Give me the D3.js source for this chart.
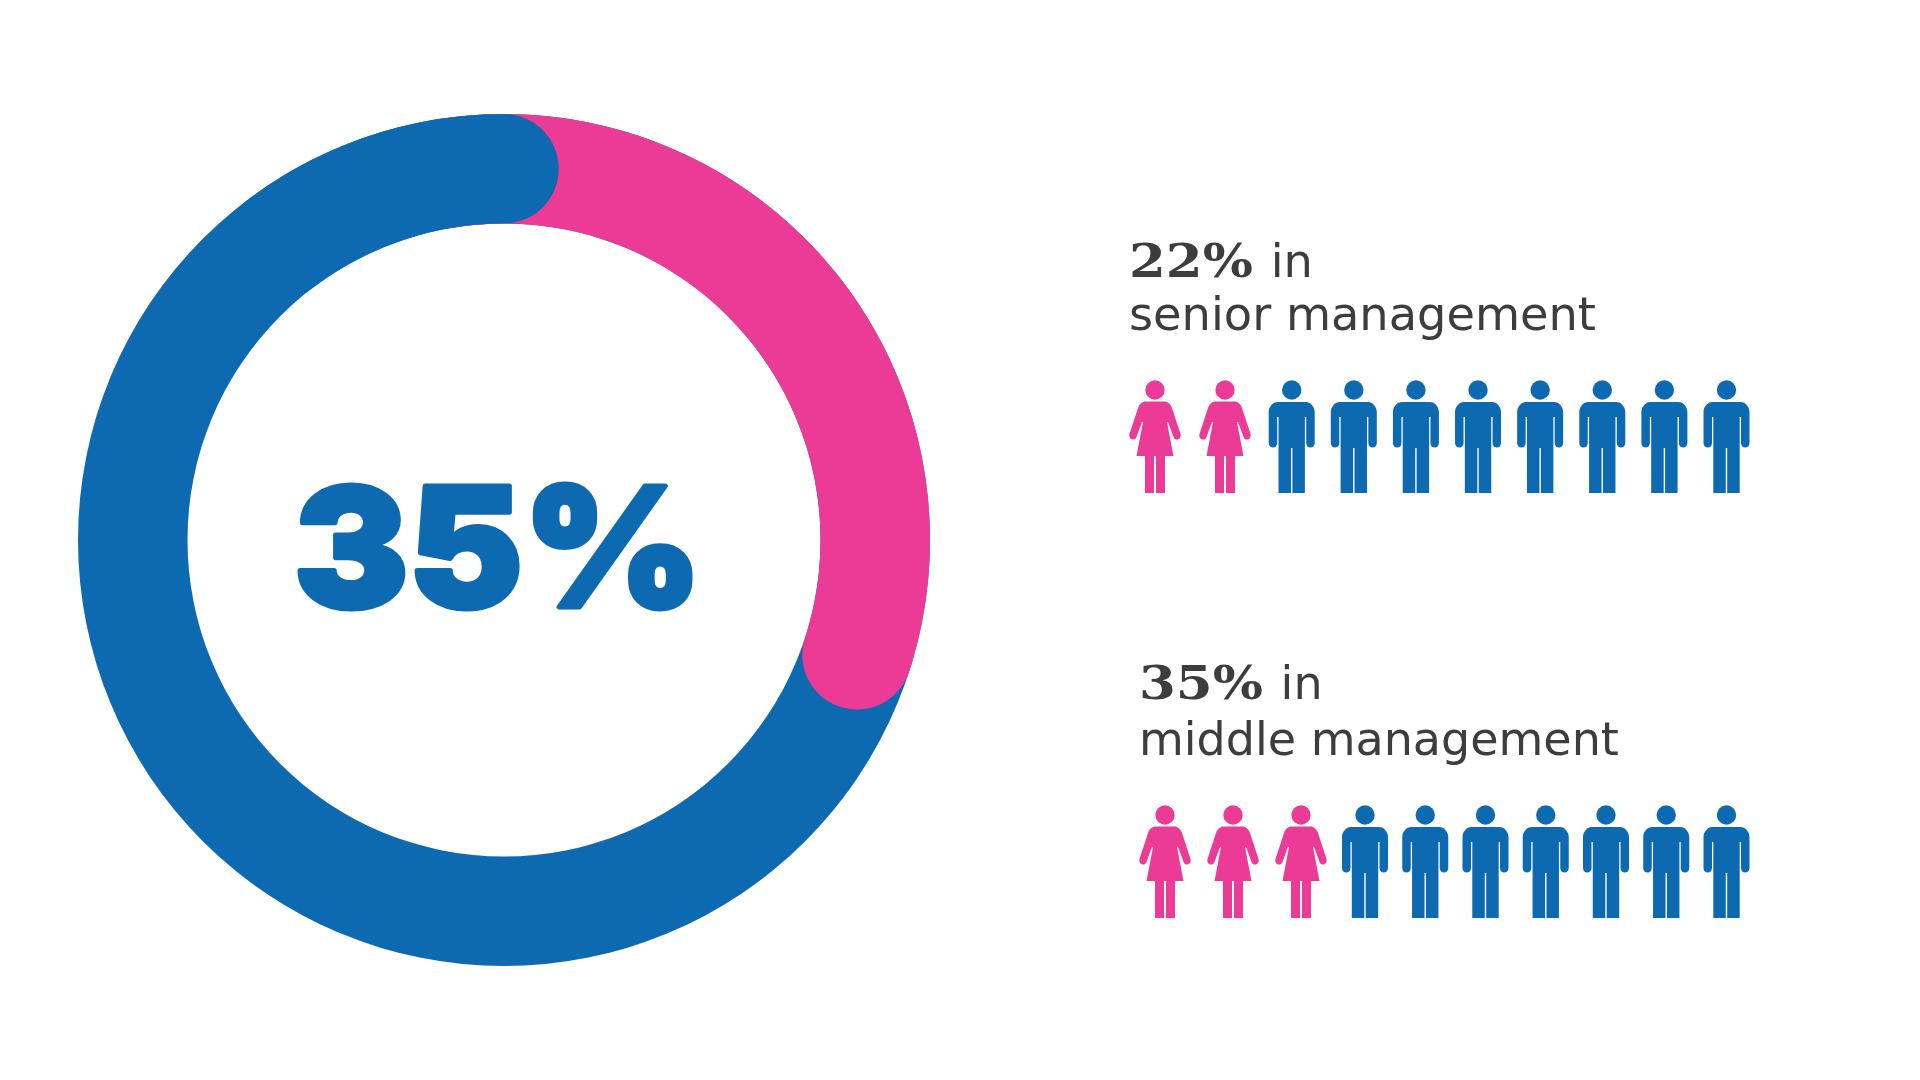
<!DOCTYPE html>
<html><head><meta charset="utf-8">
<script src="https://cdn.jsdelivr.net/npm/d3@7"></script>
<style>html,body{margin:0;padding:0;background:#fff}svg{display:block}</style></head>
<body><svg id="c" width="1920" height="1080"></svg>
<script>
const headline = "35%";
// share of the ring in pink, read at the centre of its rounded end
const ringShare = [0.3];
const rowPct = ["22%", "35%"];
const rowLabel = ["senior management", "middle management"];
const rowWomen = [2, 3];
const rowTotal = [10, 10];
const BLUE = "#106AB0", PINK = "#EC3B97", INK = "#3C3C3C";

const svg = d3.select("#c");
const defs = svg.append("defs");
defs.append("filter").attr("id", "soft").attr("x", 0).attr("y", 0).attr("width", 1920).attr("height", 1080)
  .attr("filterUnits", "userSpaceOnUse")
  .append("feGaussianBlur").attr("stdDeviation", 0.7);
const root = svg.append("g").attr("filter", "url(#soft)");

const angle = d3.scaleLinear().domain([0, 1]).range([0, 2 * Math.PI]);
const cx = 504, cy = 540, R = 426, r = 316.5, cap = (R - r) / 2;
const capAngle = Math.asin(cap / ((R + r) / 2));
const g = root.append("g").attr("transform", `translate(${cx},${cy})`);
const arc = d3.arc().innerRadius(r).outerRadius(R);
const roundArc = d3.arc().innerRadius(r).outerRadius(R).cornerRadius(cap);
g.append("path").attr("fill", BLUE).attr("d", arc({startAngle: 0, endAngle: 2 * Math.PI}));
g.append("path").attr("fill", PINK).attr("d", roundArc({startAngle: -0.3, endAngle: angle(ringShare[0]) + capAngle}));
g.append("path").attr("fill", BLUE).attr("d", roundArc({startAngle: -0.8, endAngle: capAngle}));

g.append("text").text(headline)
  .attr("transform", "translate(-6,67) scale(1.035,1)")
  .attr("text-anchor", "middle")
  .attr("font-family", "Inter").attr("font-weight", 900).attr("font-size", 166)
  .attr("fill", BLUE).attr("stroke", BLUE).attr("stroke-width", 5).attr("stroke-linejoin", "round");

const woman = "M-9,21.5 L9,21.5 C13,21.5 15.5,24 17,28 L25.5,54 C27,59 20.5,62 18.5,57 L13,42 L12,42 L18.5,76 L10,76 L10,113 L1,113 L1,76 L-1,76 L-1,113 L-10,113 L-10,76 L-18.5,76 L-12,42 L-13,42 L-18.5,57 C-20.5,62 -27,59 -25.5,54 L-17,28 C-15.5,24 -13,21.5 -9,21.5 Z";
const man = "M-14,22 L14,22 C19,22 23,27 23,32 L23,63 C23,69 14.5,69 14.5,63 L14.5,37 L13.2,37 L13.2,113 L0.7,113 L0.7,68 L-0.7,68 L-0.7,113 L-13.2,113 L-13.2,37 L-14.5,37 L-14.5,63 C-14.5,69 -23,69 -23,63 L-23,32 C-23,27 -19,22 -14,22 Z";

const rows = [
  {tx: 1129, b1: 277, b2: 330, top: 380, fs: 46.3, boldW: 124, pink: [1155, 1225], blue: [1291.7, 1726.5]},
  {tx: 1139, b1: 699, b2: 755, top: 805, fs: 46, boldW: 124, pink: [1165, 1301], blue: [1365, 1726.5]}
];
rows.forEach((row, i) => {
  const t = root.append("g").attr("font-family", "DejaVu Sans").attr("font-size", row.fs).attr("fill", INK);
  const a = t.append("text").attr("x", row.tx).attr("y", row.b1);
  a.append("tspan").attr("font-weight", 700).attr("font-family", "DejaVu Serif")
    .attr("textLength", row.boldW).attr("lengthAdjust", "spacingAndGlyphs").text(rowPct[i]);
  a.append("tspan").attr("dx", 3).text(" in");
  t.append("text").attr("x", row.tx).attr("y", row.b2).text(rowLabel[i]);
  const w = rowWomen[i], n = rowTotal[i];
  const xW = d3.scaleLinear().domain([0, w - 1]).range(row.pink);
  const xM = d3.scaleLinear().domain([w, n - 1]).range(row.blue);
  const ppl = root.append("g").selectAll("g").data(d3.range(n)).join("g")
    .attr("transform", d => `translate(${d < w ? xW(d) : xM(d)},${row.top})`)
    .attr("fill", d => d < w ? PINK : BLUE);
  ppl.append("circle").attr("cy", 10).attr("r", 9.7);
  ppl.append("path").attr("d", d => d < w ? woman : man);
});
</script></body></html>
